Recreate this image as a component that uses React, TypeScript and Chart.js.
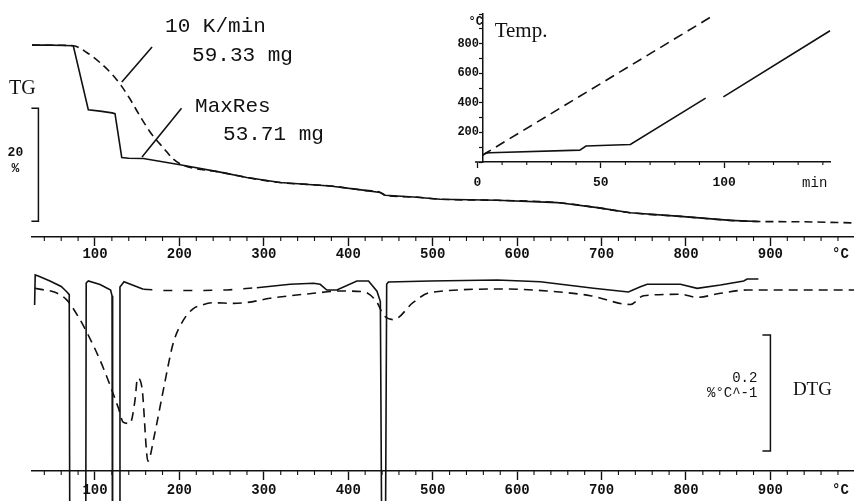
import React, { useEffect, useRef } from "react";
import { Chart, registerables } from "chart.js";
Chart.register(...registerables);

// ---------------- data ----------------
const tempTicks = [100, 200, 300, 400, 500, 600, 700, 800, 900];

// TG, MaxRes (solid): temperature °C, mass %
const tgTempSolid = [25.4, 47, 64.5, 74.3, 92.1, 106, 120.2, 123.7, 131.7, 140, 157.3, 200.8, 248.2, 279.8, 319.3, 378.5, 417.6, 437.8, 443.7, 476.9, 508.9, 576.5, 647.6, 695, 734, 793.4, 852.6, 885.8];
const tgSolid = [100.0, 100.0, 99.95, 99.9, 88.55, 88.3, 88.0, 87.85, 80.1, 79.95, 79.9, 78.8, 77.5, 76.55, 75.65, 75.05, 74.3, 73.9, 73.4, 73.1, 72.7, 72.5, 72.1, 71.2, 70.3, 69.65, 68.95, 68.75];

// TG, 10 K/min (dashed)
const tgTempDashed = [25.4, 60, 74.3, 90.2, 106, 119.8, 129.7, 141.5, 153.4, 167.2, 181, 192.8, 204.7, 248.2, 279.8, 319.3, 378.5, 417.6, 437.8, 443.7, 476.9, 508.9, 576.5, 647.6, 695, 734, 793.4, 852.6, 885.8, 935.6, 999];
const tgDashed = [100, 99.97, 99.9, 98.7, 96.9, 94.9, 93.1, 90.45, 87.4, 84.2, 81.8, 79.8, 78.7, 77.5, 76.55, 75.65, 75.05, 74.3, 73.9, 73.4, 73.1, 72.7, 72.5, 72.1, 71.2, 70.3, 69.65, 68.95, 68.75, 68.7, 68.5];

// DTG, MaxRes (solid): %/°C
const dtgTempSolid = [28.5, 29.2, 32.8, 46.7, 60, 66.5, 69.5, 70.5, 88.8, 89.6, 92.1, 106, 118.5, 120.2, 120.9, 128.8, 129.6, 134.4, 157.3, 183, 224.5, 256.1, 291.7, 331.1, 358.8, 366.7, 374.6, 386.5, 410.2, 424, 434, 438, 440.5, 443.3, 445.5, 447.5, 497, 576.5, 627.5, 690.6, 731.8, 746, 754, 793.4, 813.2, 840.8, 868.4, 872.4, 885.8];
const dtgSolid = [-0.026, 0.026, 0.024, 0.0155, 0.006, -0.003, -0.008, -0.65, -0.65, 0.012, 0.0155, 0.0095, 0, -0.01, -0.65, -0.65, 0.005, 0.0143, 0.0012, -0.0009, -0.0009, 0, 0.004, 0.0098, 0.0116, 0.0098, 0, 0, 0.0155, 0.0155, -0.002, -0.02, -0.65, -0.65, 0.01, 0.0138, 0.0155, 0.0172, 0.0143, 0.0029, -0.0034, 0.0057, 0.0098, 0.0098, 0.0029, 0.0086, 0.0155, 0.019, 0.019];

// DTG, 10 K/min (dashed)
const dtgTempDashed = [28.9, 40, 50.6, 66.5, 80.2, 92.1, 106, 117.8, 127.6, 133.6, 141.5, 147.4, 150.4, 155.7, 162.8, 170, 181, 192.8, 204.7, 216.5, 224.5, 240.2, 264, 279.8, 307.4, 358.8, 390.4, 418, 433.9, 441.7, 453.6, 477.3, 497, 588, 635.4, 686.7, 734.1, 749.9, 793.4, 813.2, 840.8, 872.4, 999];
const dtgDashed = [0.003, 0, -0.003, -0.017, -0.046, -0.078, -0.121, -0.164, -0.203, -0.228, -0.23, -0.19, -0.152, -0.169, -0.295, -0.253, -0.172, -0.091, -0.052, -0.032, -0.027, -0.022, -0.023, -0.0216, -0.0143, -0.0057, -0.0017, -0.003, -0.021, -0.043, -0.051, -0.021, -0.0043, 0.0017, -0.0017, -0.0098, -0.025, -0.0098, -0.0074, -0.0126, -0.0057, 0, 0];

// Inset: temperature programme (min, °C)
const timeSolid = [0.5, 2, 3.5, 5, 41.5, 44, 62, 92.5, 96, 99.7, 142.9];
const tempSolid = [20, 45, 60, 63, 80, 108, 118, 432, null, 440, 887];
const timeDashed = [0.5, 2, 4, 96.3];
const tempDashed = [20, 45, 66, 997];
const timeTicks = [0, 50, 100];
const insetTempTicks = [0, 100, 200, 300, 400, 500, 600, 700, 800, 900, 1000];
const insetTempLabels = [200, 400, 600, 800];

// ---------------- styling ----------------
const INK = "#111";
const MONO = '"Liberation Mono", "DejaVu Sans Mono", monospace';
const SERIF = '"Liberation Serif", "DejaVu Serif", serif';

const pts = (xs: number[], ys: (number | null)[]) => xs.map((x, i) => ({ x, y: ys[i] }));

// annotation anchors (data units)
const tgNotes = [
  { text: "10 K/min", T: 183, v: 103.4 },
  { text: "59.33 mg", T: 215, v: 98.25 },
  { text: "MaxRes", T: 218.5, v: 89.2 },
  { text: "53.71 mg", T: 251.7, v: 84.25 },
];
const tgLeaders = [
  [167.6, 99.67, 131.8, 93.47],
  [202.5, 88.81, 155.7, 80.18],
];
const tgBracket = { T: 33, top: 88.8, bottom: 68.8 };
const dtgBracket = { T: 900, top: -0.0776, bottom: -0.2776 };

function minorTicks(ctx: CanvasRenderingContext2D, xs: any, y: number, from: number, to: number, step: number, majorStep: number, len: number) {
  ctx.beginPath();
  for (let t = from; t <= to; t += step) {
    if (Math.abs(t % majorStep) < 1e-6) continue;
    const px = xs.getPixelForValue(t);
    ctx.moveTo(px, y);
    ctx.lineTo(px, y + len);
  }
  ctx.stroke();
}

const tgDecor = {
  id: "tgDecor",
  afterDraw(chart: any) {
    const { ctx, chartArea } = chart;
    const xs = chart.scales.x, ys = chart.scales.y;
    ctx.save();
    ctx.strokeStyle = INK; ctx.fillStyle = INK; ctx.lineWidth = 1.1;
    minorTicks(ctx, xs, chartArea.bottom, 40, 980, 20, 100, 4);
    ctx.font = `bold 14px ${MONO}`; ctx.textAlign = "center"; ctx.textBaseline = "middle";
    ctx.fillText("°C", xs.getPixelForValue(983), chartArea.bottom + 17);
    // bracket
    const bx = xs.getPixelForValue(tgBracket.T);
    const b0 = ys.getPixelForValue(tgBracket.top), b1 = ys.getPixelForValue(tgBracket.bottom);
    ctx.lineWidth = 1.5;
    ctx.beginPath(); ctx.moveTo(bx - 7, b0); ctx.lineTo(bx, b0); ctx.lineTo(bx, b1); ctx.lineTo(bx - 7, b1); ctx.stroke();
    const mid = (b0 + b1) / 2;
    ctx.font = `bold 13px ${MONO}`;
    ctx.fillText("20", bx - 23, mid - 12);
    ctx.fillText("%", bx - 23, mid + 4);
    ctx.font = `20px ${SERIF}`;
    ctx.fillText("TG", bx - 16, b0 - 20);
    // leaders
    ctx.lineWidth = 1.6;
    tgLeaders.forEach(([t0, v0, t1, v1]) => {
      ctx.beginPath();
      ctx.moveTo(xs.getPixelForValue(t0), ys.getPixelForValue(v0));
      ctx.lineTo(xs.getPixelForValue(t1), ys.getPixelForValue(v1));
      ctx.stroke();
    });
    ctx.font = `21px ${MONO}`; ctx.textAlign = "left";
    tgNotes.forEach((n) => ctx.fillText(n.text, xs.getPixelForValue(n.T), ys.getPixelForValue(n.v)));
    ctx.restore();
  },
};

const dtgDecor = {
  id: "dtgDecor",
  afterDraw(chart: any) {
    const { ctx, chartArea } = chart;
    const xs = chart.scales.x, ys = chart.scales.y;
    ctx.save();
    ctx.strokeStyle = INK; ctx.fillStyle = INK; ctx.lineWidth = 1.1;
    minorTicks(ctx, xs, chartArea.bottom, 40, 980, 20, 100, 4);
    ctx.font = `bold 14px ${MONO}`; ctx.textAlign = "center"; ctx.textBaseline = "middle";
    ctx.fillText("°C", xs.getPixelForValue(983), chartArea.bottom + 19);
    const bx = xs.getPixelForValue(dtgBracket.T);
    const b0 = ys.getPixelForValue(dtgBracket.top), b1 = ys.getPixelForValue(dtgBracket.bottom);
    ctx.lineWidth = 1.5;
    ctx.beginPath(); ctx.moveTo(bx - 8, b0); ctx.lineTo(bx, b0); ctx.lineTo(bx, b1); ctx.lineTo(bx - 8, b1); ctx.stroke();
    const mid = (b0 + b1) / 2;
    ctx.font = `14px ${MONO}`; ctx.textAlign = "right";
    ctx.fillText("0.2", bx - 13, mid - 15);
    ctx.fillText("%°C^-1", bx - 13, mid);
    ctx.font = `19px ${SERIF}`; ctx.textAlign = "center";
    ctx.fillText("DTG", bx + 42, mid - 3);
    ctx.restore();
  },
};

const insetDecor = {
  id: "insetDecor",
  afterDraw(chart: any) {
    const { ctx, chartArea } = chart;
    const xs = chart.scales.x, ys = chart.scales.y;
    ctx.save();
    ctx.strokeStyle = INK; ctx.fillStyle = INK; ctx.lineWidth = 1.1;
    minorTicks(ctx, xs, chartArea.bottom, 10, 140, 10, 50, 3);
    ctx.lineWidth = 1.5;
    ctx.beginPath(); ctx.moveTo(xs.getPixelForValue(-1), chartArea.bottom); ctx.lineTo(chartArea.left, chartArea.bottom); ctx.stroke();
    ctx.textBaseline = "middle";
    ctx.font = `21px ${SERIF}`; ctx.textAlign = "left";
    ctx.fillText("Temp.", xs.getPixelForValue(7), ys.getPixelForValue(882));
    ctx.font = `bold 12px ${MONO}`; ctx.textAlign = "center";
    ctx.fillText("°C", xs.getPixelForValue(-0.7), ys.getPixelForValue(943));
    ctx.font = `14px ${MONO}`;
    ctx.fillText("min", xs.getPixelForValue(136.7), chartArea.bottom + 21);
    ctx.restore();
  },
};

const lineDs = (label: string, data: any[], dashed: boolean, smooth: boolean, extra: any = {}) => ({
  label,
  data,
  borderColor: INK,
  backgroundColor: INK,
  borderWidth: 1.6,
  borderDash: dashed ? [8, 5] : [],
  pointRadius: 0,
  tension: 0,
  cubicInterpolationMode: smooth ? "monotone" : "default",
  fill: false,
  clip: false,
  ...extra,
});

const tempAxis = (labelPad: number) => ({
  type: "linear",
  position: "bottom",
  min: 25.4,
  max: 999,
  afterBuildTicks: (s: any) => { s.ticks = tempTicks.map((v) => ({ value: v })); },
  afterFit: (s: any) => { s.height = 30; },
  grid: { drawOnChartArea: false, drawTicks: true, tickLength: 9, tickColor: INK, tickWidth: 1.4 },
  border: { display: true, color: INK, width: 1.5 },
  ticks: { color: INK, padding: labelPad, maxRotation: 0, autoSkip: false, font: { family: MONO, size: 14, weight: "bold", lineHeight: 1 } },
});

const baseOpts = {
  responsive: false,
  animation: false,
  events: [],
  plugins: { legend: { display: false }, tooltip: { enabled: false } },
};

export default function App() {
  const tgRef = useRef<HTMLCanvasElement>(null);
  const dtgRef = useRef<HTMLCanvasElement>(null);
  const inRef = useRef<HTMLCanvasElement>(null);

  useEffect(() => {
    document.body.style.margin = "0";
    const charts: Chart[] = [];
    charts.push(new Chart(tgRef.current as HTMLCanvasElement, {
      type: "line",
      data: {
        datasets: [
          lineDs("MaxRes 53.71 mg", pts(tgTempSolid, tgSolid), false, false),
          lineDs("10 K/min 59.33 mg", pts(tgTempDashed, tgDashed), true, true),
        ],
      },
      options: {
        ...baseOpts,
        layout: { padding: { left: 32, right: 0, top: 0, bottom: 0 } },
        scales: { x: tempAxis(1), y: { type: "linear", display: false, min: 66, max: 108 } },
      } as any,
      plugins: [tgDecor],
    } as any));

    charts.push(new Chart(dtgRef.current as HTMLCanvasElement, {
      type: "line",
      data: {
        datasets: [
          lineDs("MaxRes", pts(dtgTempSolid, dtgSolid), false, false, {
            segment: { borderDash: (c: any) => (c.p0.parsed.x >= 157 && c.p1.parsed.x <= 292 ? [9, 11] : undefined) },
          }),
          lineDs("10 K/min", pts(dtgTempDashed, dtgDashed), true, true, { borderDash: [9, 6] }),
        ],
      },
      options: {
        ...baseOpts,
        layout: { padding: { left: 32, right: 0, top: 0, bottom: 0 } },
        scales: { x: tempAxis(3), y: { type: "linear", display: false, min: -0.312, max: 0.05 } },
      } as any,
      plugins: [dtgDecor],
    } as any));

    charts.push(new Chart(inRef.current as HTMLCanvasElement, {
      type: "line",
      data: {
        datasets: [
          lineDs("MaxRes", pts(timeSolid, tempSolid), false, false),
          lineDs("10 K/min", pts(timeDashed, tempDashed), true, false, { borderDash: [10, 6] }),
        ],
      },
      options: {
        ...baseOpts,
        layout: { padding: { left: 0, right: 10, top: 14, bottom: 0 } },
        scales: {
          x: {
            type: "linear", position: "bottom", min: 2.27, max: 142.9,
            afterBuildTicks: (s: any) => { s.ticks = timeTicks.map((v) => ({ value: v })); },
            afterFit: (s: any) => { s.height = 38; },
            grid: { drawOnChartArea: false, tickLength: 6, tickColor: INK, tickWidth: 1.3 },
            border: { display: true, color: INK, width: 1.5 },
            ticks: { color: INK, padding: 8, maxRotation: 0, autoSkip: false, font: { family: MONO, size: 13, weight: "bold", lineHeight: 1 } },
          },
          y: {
            type: "linear", position: "left", min: 0, max: 1000,
            afterBuildTicks: (s: any) => { s.ticks = insetTempTicks.map((v) => ({ value: v })); },
            afterFit: (s: any) => { s.width = 43; },
            grid: { drawOnChartArea: false, tickLength: 4, tickColor: INK, tickWidth: 1.2 },
            border: { display: true, color: INK, width: 1.5 },
            ticks: {
              color: INK, padding: 0, autoSkip: false,
              callback: (v: any) => (insetTempLabels.includes(v) ? String(v) : ""),
              font: { family: MONO, size: 12, weight: "bold", lineHeight: 1 },
            },
          },
        },
      } as any,
      plugins: [insetDecor],
    } as any));

    return () => charts.forEach((c) => c.destroy());
  }, []);

  return (
    <div style={{ position: "fixed", left: 0, top: 0, width: 854, height: 501, background: "#fff", overflow: "hidden" }}>
      <canvas ref={tgRef} width={854} height={267} style={{ position: "absolute", left: 0, top: 0 }} />
      <canvas ref={dtgRef} width={854} height={240} style={{ position: "absolute", left: 0, top: 261 }} />
      <canvas ref={inRef} width={400} height={200} style={{ position: "absolute", left: 440, top: 0 }} />
    </div>
  );
}
